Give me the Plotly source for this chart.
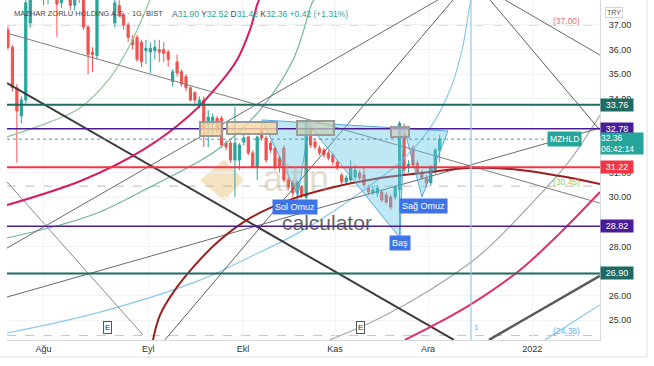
import plotly.graph_objects as go

# ---------------- candle data (daily bars, index 0..97) ----------------
opens  = [36.80, 36.10, 34.45, 33.30, 33.95, 37.08, 39.20, 38.50, 39.30, 38.60,
          39.00, 38.50, 37.90, 38.80, 39.40, 37.80, 38.60, 38.20, 36.92, 35.90,
          35.75, 38.30, 39.00, 38.90, 37.08, 37.80, 37.40, 37.00, 36.40, 36.50,
          36.30, 35.95, 35.90, 35.95, 36.00, 36.00, 35.90, 34.70, 35.50, 35.10,
          34.90, 34.45, 34.25, 33.75, 33.95, 32.93, 32.95, 33.20, 33.22, 32.20,
          32.20, 31.51, 31.51, 32.24, 32.45, 31.80, 31.23, 32.73, 32.41, 32.20,
          32.00, 31.60, 32.00, 30.70, 30.58, 30.20, 30.41, 30.00, 32.73, 32.24,
          32.00, 31.92, 31.80, 31.72, 31.43, 30.90, 30.62, 30.70, 30.82, 30.98,
          30.90, 30.41, 30.17, 30.17, 30.21, 30.09, 30.01, 30.01, 30.30, 32.55,
          31.25, 32.00, 31.39, 31.02, 30.78, 30.58, 31.11, 31.90]
highs  = [36.95, 36.20, 34.60, 34.10, 38.30, 39.00, 39.60, 39.80, 39.50, 39.30,
          39.20, 38.80, 39.10, 39.80, 39.60, 38.90, 38.90, 38.40, 37.00, 36.10,
          38.60, 39.40, 39.30, 39.10, 38.20, 38.00, 37.50, 37.10, 36.60, 36.60,
          36.40, 36.40, 36.30, 36.40, 36.40, 36.30, 36.00, 35.20, 35.80, 35.20,
          35.00, 34.50, 34.30, 34.10, 34.10, 33.54, 33.40, 33.30, 33.30, 32.30,
          32.30, 33.67, 32.20, 32.60, 32.50, 31.90, 32.50, 33.00, 32.50, 32.30,
          32.05, 31.70, 32.10, 30.80, 30.70, 30.70, 30.50, 33.10, 33.00, 32.40,
          32.10, 32.00, 31.90, 31.80, 31.50, 31.00, 30.90, 31.50, 31.30, 31.10,
          31.20, 30.50, 30.45, 30.50, 30.30, 30.20, 30.10, 30.50, 33.10, 33.00,
          31.50, 32.10, 31.50, 31.10, 30.90, 31.30, 32.00, 32.52]
lows   = [36.00, 34.30, 31.40, 33.00, 33.80, 36.90, 38.30, 38.20, 37.80, 37.85,
          38.10, 36.50, 37.70, 38.50, 37.60, 37.60, 37.90, 36.80, 35.00, 35.10,
          35.60, 38.10, 38.10, 38.20, 36.90, 37.30, 36.80, 36.30, 36.00, 35.50,
          35.30, 35.40, 35.05, 35.60, 35.50, 35.50, 35.30, 34.50, 34.90, 34.50,
          34.30, 33.90, 33.70, 33.60, 32.04, 32.04, 32.50, 32.60, 32.00, 31.90,
          31.40, 30.01, 31.10, 32.10, 31.70, 31.20, 30.70, 32.30, 31.40, 31.80,
          31.10, 31.00, 30.60, 30.30, 30.00, 29.90, 29.95, 29.90, 32.00, 31.95,
          31.70, 31.60, 31.50, 31.30, 31.10, 30.50, 30.50, 30.60, 30.70, 30.70,
          30.40, 30.10, 30.10, 30.00, 29.80, 29.70, 29.50, 29.90, 28.45, 30.95,
          31.00, 31.20, 30.90, 30.70, 30.40, 30.45, 30.95, 31.42]
closes = [36.10, 34.45, 33.50, 33.95, 37.90, 38.60, 38.50, 39.40, 38.60, 39.00,
          38.40, 37.85, 38.80, 39.50, 37.80, 38.60, 38.10, 36.92, 35.80, 35.80,
          38.30, 39.00, 38.40, 38.40, 37.90, 37.40, 37.00, 36.50, 36.20, 35.60,
          35.50, 36.05, 36.05, 36.10, 35.90, 35.85, 35.60, 35.10, 35.05, 34.60,
          34.45, 33.95, 33.95, 33.95, 32.81, 33.26, 33.25, 32.70, 32.12, 32.04,
          31.51, 32.20, 32.12, 32.41, 31.80, 31.23, 32.45, 32.41, 31.51, 31.92,
          31.23, 31.20, 30.70, 30.41, 30.17, 30.60, 30.09, 33.00, 32.12, 32.04,
          31.80, 31.72, 31.59, 31.43, 31.19, 30.62, 30.78, 31.19, 31.10, 30.78,
          30.50, 30.21, 30.30, 30.37, 29.89, 29.80, 29.60, 30.41, 33.00, 31.11,
          31.35, 31.31, 31.02, 30.78, 30.58, 31.23, 31.92, 32.36]
bar_index = list(range(len(opens)))

month_pos = [8.0, 31.5, 52.8, 73.5, 94.4, 117.8]
month_lbl = ["Ağu", "Eyl", "Ekl", "Kas", "Ara", "2022"]
# axis ticks not hidden behind the level boxes
price_ticks = [25, 26, 28, 30, 31, 34, 35, 36, 37]

# horizontal levels
level_prices = [33.76, 32.78, 31.22, 28.82, 26.90]
dashed_prices = [37.00, 30.45, 24.38]
last_price = 32.36

# trend lines (bar index, price)
l1_x, l1_y = [-0.22, 133.0], [36.67, 29.76]
l2_x, l2_y = [-0.22, 100.2], [34.64, 24.20]
l3_x, l3_y = [-0.22, 30.34], [30.62, 24.40]
lf_x, lf_y = [35.28, 100.0], [24.20, 38.02]
lg_x, lg_y = [-0.22, 96.63], [27.93, 38.02]
lh_x, lh_y = [-0.22, 133.0], [25.94, 32.81]
li_x, li_y = [108.09, 133.0], [24.20, 26.80]
lj1_x, lj1_y = [111.69, 133.0], [38.02, 35.78]
lj2_x, lj2_y = [108.31, 133.0], [38.02, 32.73]
ln_x, ln_y = [120.67, 133.0], [24.20, 25.62]

# curved arcs
ca_x = [-0.22, 16.85, 30.34, 40.90, 47.64, 51.46, 54.38, 55.96, 56.40]
ca_y = [29.68, 30.70, 31.92, 33.34, 34.64, 35.58, 36.80, 37.81, 38.02]
cb_x = [89.21, 97.08, 103.82, 115.06, 124.04, 133.03]
cb_y = [24.20, 24.93, 25.62, 27.04, 28.54, 30.21]
cc_x = [32.58, 34.16, 37.53, 42.02, 47.64, 54.38, 63.37, 72.36, 83.60, 94.83, 103.82, 115.06, 124.04, 133.03]
cc_y = [24.20, 25.21, 26.23, 27.24, 28.26, 29.15, 29.89, 30.37, 30.78, 31.02, 31.19, 31.11, 30.86, 30.54]
cd1_x = [-0.22, 9.44, 16.18, 22.92, 27.42, 31.24, 31.91]
cd1_y = [32.45, 33.06, 33.63, 34.85, 36.19, 37.73, 38.02]
cd2_x = [-0.22, 11.69, 20.67, 31.91, 46.97, 56.63, 64.04, 68.31, 68.76]
cd2_y = [28.34, 28.87, 29.40, 30.41, 31.92, 33.54, 35.58, 37.89, 38.02]
cl_x = [-0.22, 20.67, 43.15, 54.38, 65.62, 76.85, 88.09, 94.83, 99.33, 102.02, 103.60, 104.04]
cl_y = [24.48, 25.33, 26.63, 27.57, 28.59, 29.89, 31.43, 32.81, 34.36, 35.98, 37.61, 38.02]
cm_x = [72.36, 83.60, 94.83, 106.07, 118.43, 126.29, 133.03]
cm_y = [24.20, 25.09, 26.23, 27.65, 29.89, 31.51, 33.34]
vline_x = 104.04

# head & shoulders pattern
hs_x = [57.08, 65.17, 67.64, 88.09, 88.99, 93.03, 98.88]
hs_y = [33.14, 30.05, 32.93, 28.34, 32.81, 30.01, 32.69]
hs_labels = ["Sol Omuz", "Baş", "Sağ Omuz"]
hs_lab_x = [64.5, 88.09, 93.26]
hs_lab_y = [29.60, 28.14, 29.64]

# boxes
box_x0 = [43.15, 49.21, 64.94, 86.07]
box_x1 = [48.09, 60.45, 73.26, 90.11]
box_y0 = [33.06, 33.06, 33.10, 32.85]
box_y1 = [32.49, 32.57, 32.53, 32.45]

e_x = [22.47, 79.10]
e_y = 24.72

GREEN = "#26a69a"
RED = "#ef5350"

fig = go.Figure()
fig.add_trace(go.Candlestick(
    x=bar_index, open=opens, high=highs, low=lows, close=closes,
    increasing=dict(line=dict(color=GREEN, width=1), fillcolor=GREEN),
    decreasing=dict(line=dict(color=RED, width=1), fillcolor=RED),
    whiskerwidth=0, showlegend=False, hoverinfo="skip"))


def add_line(xs, ys, color, width, shape="linear"):
    fig.add_trace(go.Scatter(x=xs, y=ys, mode="lines",
                             line=dict(color=color, width=width, shape=shape),
                             hoverinfo="skip", showlegend=False))


# drawings
add_line(cl_x, cl_y, "#8cc8ea", 1.2, "spline")
add_line(cd1_x, cd1_y, "#8fc59a", 1.2, "spline")
add_line(cd2_x, cd2_y, "#6fb5a0", 1.2, "spline")
add_line(cm_x, cm_y, "#a8a8a8", 1.2, "spline")
add_line(l1_x, l1_y, "#7d7d7d", 1)
add_line(l3_x, l3_y, "#8a8a8a", 1)
add_line(lf_x, lf_y, "#5f5f5f", 1)
add_line(lg_x, lg_y, "#6a6a6a", 1)
add_line(lh_x, lh_y, "#6a6a6a", 1)
add_line(lj1_x, lj1_y, "#6a6a6a", 1)
add_line(lj2_x, lj2_y, "#5f5f5f", 1)
add_line(ln_x, ln_y, "#8cc8ea", 1.2)
add_line(l2_x, l2_y, "#3c3c3c", 2)
add_line(li_x, li_y, "#5a5a5a", 2.5)
add_line(ca_x, ca_y, "#d81b60", 2, "spline")
add_line(cb_x, cb_y, "#e0306a", 2, "spline")
add_line(cc_x, cc_y, "#9b1f1f", 2, "spline")

# head & shoulders fill
fig.add_trace(go.Scatter(x=hs_x + [hs_x[0]], y=hs_y + [hs_y[0]], mode="lines",
                         fill="toself", fillcolor="rgba(100,200,228,0.42)",
                         line=dict(color="rgba(70,160,215,0.9)", width=1),
                         hoverinfo="skip", showlegend=False))

shapes = []
level_colors = ["#1f6b63", "#4a1c96", "#f23645", "#4a1c96", "#1f6b63"]
level_widths = [2, 1.5, 2, 1.5, 2]
for p, c, w in zip(level_prices, level_colors, level_widths):
    shapes.append(dict(type="line", xref="paper", x0=0, x1=1, yref="y", y0=p, y1=p,
                       line=dict(color=c, width=w)))
dash_colors = ["#f0a3ab", "#b9bdc6", "#a6cfe8"]
for p, c in zip(dashed_prices, dash_colors):
    shapes.append(dict(type="line", xref="paper", x0=0, x1=1, yref="y", y0=p, y1=p,
                       line=dict(color=c, width=1, dash="dash"), layer="below"))
shapes.append(dict(type="line", xref="paper", x0=0, x1=0.941, yref="y", y0=last_price, y1=last_price,
                   line=dict(color="#5b8fc7", width=1, dash="dot")))
shapes.append(dict(type="line", xref="x", x0=vline_x, x1=vline_x, yref="paper", y0=0, y1=1,
                   line=dict(color="#8ec9ee", width=1.2)))
box_fill = ["rgba(247,215,160,0.8)", "rgba(247,215,160,0.8)", "rgba(196,210,180,0.7)", "rgba(205,205,198,0.7)"]
for x0, x1, y0, y1, fc in zip(box_x0, box_x1, box_y0, box_y1, box_fill):
    shapes.append(dict(type="rect", xref="x", yref="y", x0=x0, x1=x1, y0=y0, y1=y1,
                       fillcolor=fc, line=dict(color="#9a9a9a", width=2)))
# frame
shapes.append(dict(type="line", xref="paper", yref="paper", x0=1.0793, x1=1.0793, y0=-0.05, y1=1,
                   line=dict(color="#e0e3eb", width=1)))
shapes.append(dict(type="line", xref="paper", yref="paper", x0=-0.01, x1=1.0793, y0=-0.05, y1=-0.05,
                   line=dict(color="#e0e3eb", width=1)))
# watermark logo (decoration)
shapes.append(dict(type="path", xref="paper", yref="paper",
                   path="M 0.3254 0.470 L 0.3659 0.530 L 0.3996 0.470 L 0.3659 0.410 Z",
                   fillcolor="rgba(226,184,100,0.40)", line=dict(width=0), layer="below"))

ann = []
# watermark text
ann.append(dict(text="altin", xref="paper", yref="paper", x=0.488, y=0.475, showarrow=False,
                font=dict(family="Liberation Sans", size=36, color="rgba(180,160,120,0.35)")))
ann.append(dict(text="calculator", xref="paper", yref="paper", x=0.5396, y=0.345, showarrow=False,
                font=dict(family="Liberation Sans", size=21, color="rgba(70,70,70,0.85)")))

# header
ann.append(dict(text="MAZHAR ZORLU HOLDING A.Ş. · 1G, BIST", xref="paper", yref="paper",
                x=0.0084, y=0.959, xanchor="left", yanchor="middle", showarrow=False,
                font=dict(family="Liberation Sans", size=7.5, color="#434651")))
g = "<span style='color:#26a69a'>"
ann.append(dict(text=f"A{g}31.90</span> Y{g}32.52</span> D{g}31.42</span> K{g}32.36</span> {g}+0.42 (+1.31%)</span>",
                xref="paper", yref="paper", x=0.2750, y=0.959, xanchor="left", yanchor="middle",
                showarrow=False, font=dict(family="Liberation Sans", size=8.5, color="#434651")))
ann.append(dict(text="TRY", xref="paper", yref="paper", x=1.0396, y=0.978, showarrow=False,
                font=dict(family="Liberation Sans", size=7, color="#555"),
                bordercolor="#d1d4dc", borderwidth=1, borderpad=1))

# dashed level labels
dash_lbl_colors = ["#e57373", "#9ccc65", "#64b5f6"]
dash_lbl_y = [37.18, 30.62, 24.58]
for p, yy, c in zip(dashed_prices, dash_lbl_y, dash_lbl_colors):
    ann.append(dict(text=f"({p:.2f})", xref="paper", x=0.9696, y=yy, yref="y",
                    showarrow=False, font=dict(family="Liberation Sans", size=8.5, color=c)))

# axis level labels
for p, c in zip(level_prices, level_colors):
    ann.append(dict(text=f"{p:.2f}", xref="paper", x=1.0, xanchor="left", yref="y", y=p,
                    showarrow=False, bgcolor=c, width=32, height=12, borderpad=0,
                    font=dict(family="Liberation Sans", size=9, color="white")))
ann.append(dict(text=f"{last_price:.2f}<br>06:42:14", xref="paper", x=1.0, xanchor="left",
                yref="y", y=last_price, yanchor="top", yshift=7, showarrow=False,
                bgcolor=GREEN, width=42, height=21, borderpad=0, align="left",
                font=dict(family="Liberation Sans", size=8.5, color="white")))
ann.append(dict(text="MZHLD", xref="paper", x=0.9696, yref="y", y=last_price, showarrow=False,
                bgcolor=GREEN, borderpad=2, font=dict(family="Liberation Sans", size=8.5, color="white")))

# pattern labels
for t, xx, yy in zip(hs_labels, hs_lab_x, hs_lab_y):
    ann.append(dict(text=t, x=xx, y=yy, xref="x", yref="y", showarrow=False,
                    bgcolor="#3f74e8", borderpad=2,
                    font=dict(family="Liberation Sans", size=9, color="white")))
for xx in e_x:
    ann.append(dict(text="E", x=xx, y=e_y, xref="x", yref="y", showarrow=False,
                    bordercolor="#555", borderwidth=1, borderpad=1, bgcolor="white",
                    font=dict(family="Liberation Sans", size=8, color="#333")))
ann.append(dict(text="1", x=vline_x + 1.3, y=e_y, xref="x", yref="y", showarrow=False,
                font=dict(family="Liberation Sans", size=8, color="#64b5f6")))

fig.update_layout(
    width=654, height=366,
    margin=dict(l=7, r=54, t=0, b=26),
    paper_bgcolor="white", plot_bgcolor="white",
    showlegend=False, hovermode=False,
    shapes=shapes, annotations=ann,
    xaxis=dict(range=[-0.22, 133.03], rangeslider=dict(visible=False),
               tickvals=month_pos, ticktext=month_lbl, ticks="",
               tickfont=dict(family="Liberation Sans", size=9, color="#333"),
               showgrid=True, gridcolor="#f1f3f7", zeroline=False,
               showline=True, linecolor="#d6d9e0", linewidth=1),
    yaxis=dict(range=[24.195, 38.016], side="right",
               tickvals=price_ticks, ticktext=[f"{v:.2f}" for v in price_ticks], ticks="",
               tickfont=dict(family="Liberation Sans", size=9, color="#333"),
               showgrid=True, gridcolor="#f1f3f7", zeroline=False,
               showline=True, linecolor="#d6d9e0", linewidth=1, ticklabelstandoff=6),
)

fig.write_html("out.html")
